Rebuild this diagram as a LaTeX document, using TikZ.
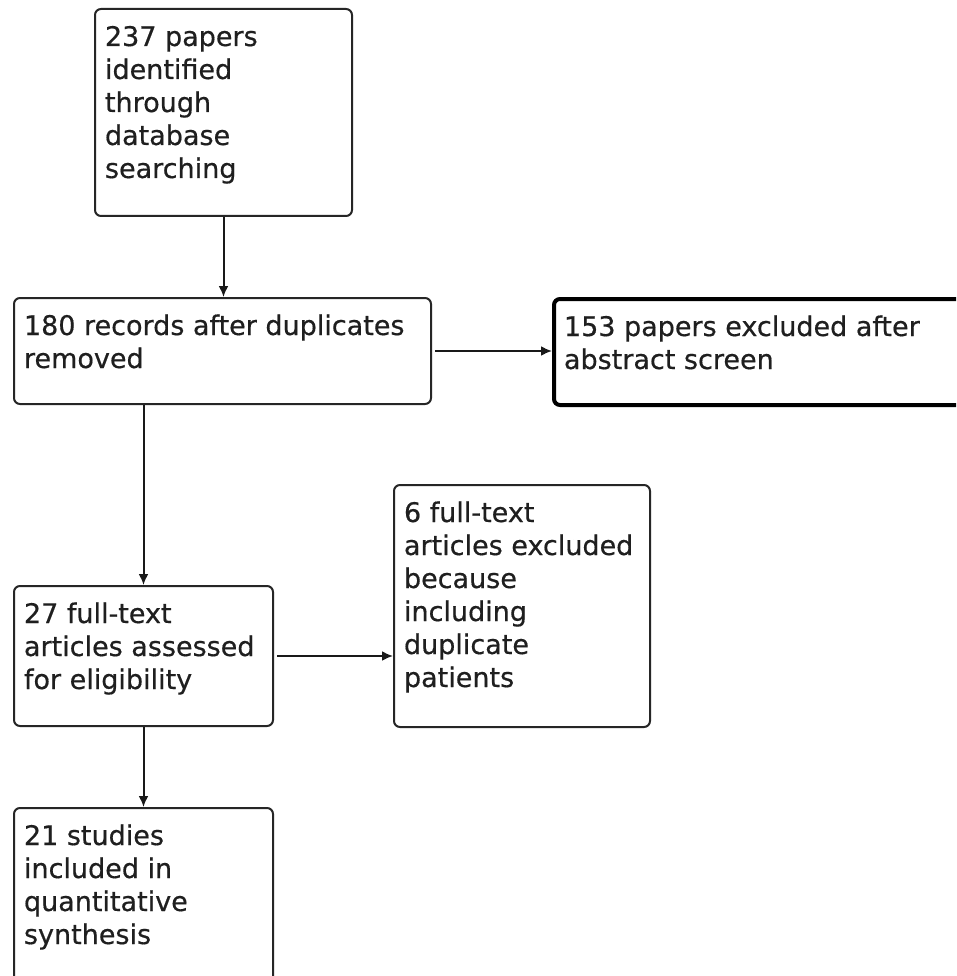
\documentclass[tikz,border=0pt]{standalone}
\usepackage{fontspec}
\setmainfont[FakeBold=0.5]{DejaVu Sans}
\usetikzlibrary{arrows.meta}
\newcommand{\boxtxt}[3]{\parbox[c][#2][t]{#1}{\fontsize{27}{33}\selectfont\raggedright\leftskip=10pt\rule{0pt}{37pt}#3}}
\tikzset{
  flowbox/.style={draw=black!85, rounded corners=6pt, line width=2pt, inner sep=0pt, anchor=north west, text=black!88},
  thickbox/.style={flowbox, draw=black, line width=4pt},
  arr/.style={draw=black!90, line width=2pt, -{Latex[length=11pt,width=10pt]}}
}
\begin{document}
\begin{tikzpicture}[x=1pt,y=-1pt]
\clip (0,0) rectangle (956,976);
\fill[white] (0,0) rectangle (956,976);
\node[flowbox] (A) at (94,8) {\boxtxt{257pt}{207pt}{237 papers\\identified\\through\\database\\searching}};
\node[flowbox] (B) at (13,297) {\boxtxt{417pt}{106pt}{180 records after duplicates\\removed}};
\node[thickbox] (C) at (552,297) {\boxtxt{420pt}{106pt}{153 papers excluded after\\abstract screen}};
\node[flowbox] (D) at (13,585) {\boxtxt{259pt}{140pt}{27 full-text\\articles assessed\\for eligibility}};
\node[flowbox] (E) at (393,484) {\boxtxt{256pt}{242pt}{6 full-text\\articles excluded\\because\\including\\duplicate\\patients}};
\node[flowbox] (F) at (13,807) {\boxtxt{259pt}{200pt}{21 studies\\included in\\quantitative\\synthesis}};
\draw[arr] (A.south) -- (A.south |- B.north);
\draw[arr, shorten <=3pt] (B.east) -- (B.east -| C.west);
\draw[arr] (D.north |- B.south) -- (D.north);
\draw[arr, shorten <=3pt] (D.east) -- (D.east -| E.west);
\draw[arr] (D.south) -- (F.north);
\end{tikzpicture}
\end{document}
